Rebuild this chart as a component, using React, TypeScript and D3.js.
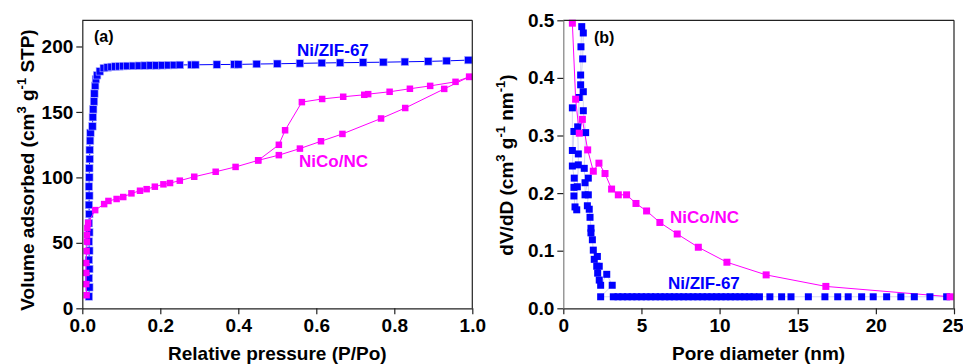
import React, { useEffect, useRef } from 'react';
import * as d3 from 'd3';

// (a) N2 isotherms
const zifAdsP = [0.017, 0.018, 0.017, 0.018, 0.017, 0.018, 0.017, 0.018, 0.017, 0.018, 0.017, 0.018, 0.017, 0.018, 0.018, 0.019, 0.019, 0.020, 0.021,
  0.026, 0.027, 0.028, 0.030, 0.031, 0.033, 0.035, 0.038, 0.045, 0.055, 0.065, 0.075, 0.085, 0.095, 0.105, 0.115, 0.130, 0.145,
  0.160, 0.175, 0.190, 0.205, 0.220, 0.235, 0.250, 0.280, 0.290, 0.345, 0.390, 0.400, 0.447, 0.500, 0.558, 0.614, 0.661, 0.720,
  0.772, 0.827, 0.887, 0.934, 0.990];
const zifAdsV = [9, 16, 23, 30, 37, 44, 51, 58, 65, 72, 79, 86, 93, 100, 107, 114, 121, 128, 134,
  139, 146, 152, 158, 164, 170, 175, 178, 181, 183.5, 184, 184.4, 184.7, 184.8, 185, 185.1, 185.2, 185.3,
  185.4, 185.5, 185.5, 185.6, 185.7, 185.8, 185.9, 186, 186, 186.2, 186.3, 186.3, 186.6, 186.8, 187.1, 187.4, 187.6, 187.8,
  188, 188.3, 188.6, 189, 189.6];

const nicoAdsP = [0.011, 0.010, 0.010, 0.010, 0.011, 0.012, 0.012, 0.013, 0.015, 0.033, 0.056, 0.067, 0.088, 0.105, 0.126, 0.148,
  0.165, 0.186, 0.208, 0.225, 0.250, 0.287, 0.342, 0.393, 0.451, 0.504, 0.558, 0.612, 0.667, 0.766, 0.828, 0.928, 0.992];
const nicoAdsV = [10, 18.5, 27, 34.6, 43.7, 50.9, 56, 61.3, 65.3, 75, 79.6, 82, 83.5, 85, 87.8, 89.8,
  91, 92.9, 94.7, 95.7, 97.5, 100.5, 104.3, 108, 113, 117, 122, 127.6, 133.2, 145, 153, 167.6, 176.8];
const nicoDesP = [0.992, 0.957, 0.892, 0.840, 0.788, 0.733, 0.723, 0.669, 0.615, 0.563, 0.520, 0.504, 0.451];
const nicoDesV = [176.8, 173, 169.9, 167.7, 165.4, 163.6, 163.1, 161.6, 159.9, 157.5, 136, 124.9, 113];

// (b) pore size distribution
const nicoPoreD = [0.58, 0.79, 1.02, 1.22, 1.56, 1.92, 2.28, 2.67, 3.09, 3.52, 4.05, 4.65, 5.33, 6.18, 7.29, 8.64, 10.47, 12.98, 16.8, 24.75];
const nicoPoreV = [0.495, 0.363, 0.304, 0.328, 0.275, 0.238, 0.252, 0.234, 0.207, 0.197, 0.197, 0.182, 0.169, 0.149, 0.129, 0.106, 0.080, 0.058, 0.038, 0.020];

const zifPoreD = [0.58, 0.58, 0.68, 0.58, 0.70, 0.68, 0.68, 0.75, 0.86, 0.90, 0.96, 0.96, 0.92, 1.02, 1.11, 1.13, 1.18, 1.28, 1.24, 1.11, 1.28,
  1.28, 1.43, 1.34, 1.39, 1.39, 1.60, 1.60, 1.54, 1.66, 1.71, 1.77, 1.77, 1.86, 1.92, 1.98, 2.18, 2.14, 2.30, 2.20, 2.30, 2.39, 2.78, 3.13, 2.39,
  3.2, 3.5, 3.8, 4.1, 4.4, 4.7, 5.0, 5.3, 5.6, 5.9, 6.2, 6.5, 6.8, 7.1, 7.4, 7.7, 8.0, 8.3, 8.6, 8.9, 9.2, 9.5, 9.8, 10.1, 10.4,
  10.7, 11.0, 11.3, 11.6, 11.9, 12.2, 12.55, 13.22, 13.97, 14.57, 15.68, 16.74, 17.56, 18.23, 19.09, 19.83, 20.69, 21.6, 22.46, 23.46, 24.53];
const zifPoreV = [0.348, 0.274, 0.307, 0.247, 0.226, 0.210, 0.195, 0.176, 0.171, 0.211, 0.249, 0.268, 0.315, 0.366, 0.405, 0.454, 0.489, 0.478, 0.433, 0.388, 0.376,
  0.343, 0.305, 0.243, 0.218, 0.197, 0.226, 0.197, 0.178, 0.172, 0.158, 0.139, 0.131, 0.119, 0.101, 0.085, 0.090, 0.073, 0.073, 0.061, 0.049, 0.040, 0.059, 0.040, 0.020,
  0.02, 0.02, 0.02, 0.02, 0.02, 0.02, 0.02, 0.02, 0.02, 0.02, 0.02, 0.02, 0.02, 0.02, 0.02, 0.02, 0.02, 0.02, 0.02, 0.02, 0.02, 0.02, 0.02, 0.02, 0.02,
  0.02, 0.02, 0.02, 0.02, 0.02, 0.02, 0.02, 0.02, 0.02, 0.02, 0.02, 0.02, 0.02, 0.02, 0.02, 0.02, 0.02, 0.02, 0.02, 0.02, 0.02];

const xTicksA = [0, 0.2, 0.4, 0.6, 0.8, 1.0];
const yTicksA = [0, 50, 100, 150, 200];
const xTicksB = [0, 5, 10, 15, 20, 25];
const yTicksB = [0, 0.1, 0.2, 0.3, 0.4, 0.5];

const BLUE = '#0000ff';
const PINK = '#ff00ff';
const FONT = "'Liberation Sans', Arial, sans-serif";

const zip = (a, b) => a.map((v, i) => [v, b[i]]);

function drawPanel(svg, opt) {
  const { left, right, top, bottom, xDomain, yDomain, xTicks, yTicks, xFmt, yFmt, leftColor } = opt;
  const x = d3.scaleLinear().domain(xDomain).range([left, right]);
  const y = d3.scaleLinear().domain(yDomain).range([bottom, top]);

  const g = svg.append('g');

  // each series: its line, then its markers
  opt.series.forEach(s => {
    const pts = zip(s.xs, s.ys);
    if (s.line !== false) {
      g.append('path')
        .attr('fill', 'none')
        .attr('stroke', s.lineColor)
        .attr('stroke-width', 1)
        .attr('d', d3.line().x(d => x(d[0])).y(d => y(d[1]))(pts));
    }
    if (s.marks !== false) {
      g.append('g').selectAll('rect')
        .data(pts).enter()
        .append('rect')
        .attr('x', d => x(d[0]) - s.size / 2)
        .attr('y', d => y(d[1]) - s.size / 2)
        .attr('width', s.size)
        .attr('height', s.size)
        .attr('fill', s.color)
        .attr('stroke', s.edge || 'none')
        .attr('stroke-width', 0.6);
    }
  });

  // frame
  const frame = svg.append('g').attr('stroke', '#222').attr('stroke-width', 1.2);
  frame.append('line').attr('x1', left).attr('x2', right).attr('y1', top).attr('y2', top);
  frame.append('line').attr('x1', right).attr('x2', right).attr('y1', top).attr('y2', bottom);

  const xAxis = svg.append('g')
    .attr('transform', `translate(0,${bottom})`)
    .call(d3.axisBottom(x).tickValues(xTicks).tickFormat(xFmt).tickSize(6).tickPadding(4).tickSizeOuter(0));
  const yAxis = svg.append('g')
    .attr('transform', `translate(${left},0)`)
    .call(d3.axisLeft(y).tickValues(yTicks).tickFormat(yFmt).tickSize(6).tickPadding(3).tickSizeOuter(0));

  [xAxis, yAxis].forEach(a => {
    a.selectAll('text')
      .attr('font-family', FONT)
      .attr('font-weight', 'bold')
      .attr('font-size', 19)
      .attr('fill', '#000');
    a.selectAll('line').attr('stroke', '#222').attr('stroke-width', 1.2);
    a.select('.domain').attr('stroke', '#222').attr('stroke-width', 1.2);
  });
  yAxis.select('.domain').attr('stroke', leftColor);
  return { x, y, xAxis, yAxis };
}

function addText(svg, x, y, str, size, color, anchor = 'start') {
  return svg.append('text')
    .attr('x', x).attr('y', y)
    .attr('font-family', FONT)
    .attr('font-weight', 'bold')
    .attr('font-size', size)
    .attr('fill', color)
    .attr('text-anchor', anchor)
    .text(str);
}

// rotated title with superscripts, parts: [text, isSup]
function addYTitle(svg, cx, cy, parts) {
  const t = svg.append('text')
    .attr('transform', `translate(${cx},${cy}) rotate(-90)`)
    .attr('text-anchor', 'middle')
    .attr('font-family', FONT)
    .attr('font-weight', 'bold')
    .attr('font-size', 19)
    .attr('fill', '#000');
  let up = false;
  parts.forEach(([str, sup]) => {
    const ts = t.append('tspan').text(str);
    if (sup && !up) { ts.attr('dy', -8).attr('font-size', 13); up = true; }
    else if (sup) { ts.attr('font-size', 13); }
    else if (up) { ts.attr('dy', 8); up = false; }
  });
}

export default function App() {
  const ref = useRef(null);

  useEffect(() => {
    const svg = d3.select(ref.current);
    svg.selectAll('*').remove();

    // panel (a)
    drawPanel(svg, {
      left: 82.3, right: 472.3, top: 20.3, bottom: 308.3,
      xDomain: [0, 1], yDomain: [0, 220],
      xTicks: xTicksA, yTicks: yTicksA,
      xFmt: d3.format('.1f'), yFmt: d3.format('d'),
      leftColor: '#222',
      series: [
        { xs: zifAdsP, ys: zifAdsV, color: BLUE, lineColor: BLUE, size: 7.5, edge: '#b4b4ff' },
        { xs: nicoAdsP, ys: nicoAdsV, color: PINK, lineColor: PINK, size: 6.5 },
        { xs: nicoDesP, ys: nicoDesV, color: PINK, lineColor: PINK, size: 6.5 },
      ],
    });
    addText(svg, 94, 42, '(a)', 16, '#000');
    addText(svg, 297, 56, 'Ni/ZIF-67', 17, BLUE);
    addText(svg, 299, 167, 'NiCo/NC', 17, PINK);
    addText(svg, 277.3, 360, 'Relative pressure (P/Po)', 19, '#000', 'middle');
    addYTitle(svg, 34, 170, [['Volume adsorbed (cm', false], ['3', true], [' g', false], ['-1', true], [' STP)', false]]);

    // panel (b)
    const pb = drawPanel(svg, {
      left: 563.3, right: 954, top: 20.3, bottom: 308.3,
      xDomain: [0, 25], yDomain: [0, 0.5],
      xTicks: xTicksB, yTicks: yTicksB,
      xFmt: d3.format('d'), yFmt: d3.format('.1f'),
      leftColor: '#808080',
      series: [
        { xs: zifPoreD, ys: zifPoreV, color: BLUE, lineColor: '#d4d4f4', size: 7, marks: false },
        { xs: nicoPoreD, ys: nicoPoreV, color: PINK, lineColor: PINK, size: 7, marks: false },
        { xs: zifPoreD, ys: zifPoreV, color: BLUE, size: 7, line: false },
        { xs: nicoPoreD, ys: nicoPoreV, color: PINK, size: 7, line: false },
      ],
    });
    // last label sits on the page edge, as in the original
    pb.xAxis.selectAll('.tick text').filter(d => d === 25).attr('dx', -1.5);
    addText(svg, 594, 43, '(b)', 16, '#000');
    addText(svg, 670, 223, 'NiCo/NC', 17, PINK);
    addText(svg, 668, 289, 'Ni/ZIF-67', 17, BLUE);
    addText(svg, 758.6, 360, 'Pore diameter (nm)', 19, '#000', 'middle');
    addYTitle(svg, 513, 165, [['dV/dD (cm', false], ['3', true], [' g', false], ['-1', true], [' nm', false], ['-1', true], [')', false]]);
  }, []);

  return (
    <div style={{ position: 'absolute', left: 0, top: 0 }}>
      <svg ref={ref} width={963} height={364} style={{ display: 'block', background: '#fff' }} />
    </div>
  );
}
